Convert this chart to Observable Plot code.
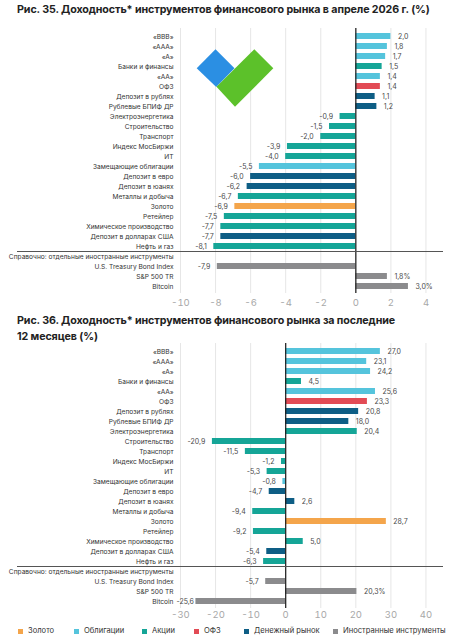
<!DOCTYPE html>
<html>
<head>
<meta charset="utf-8">
<script src="https://cdn.jsdelivr.net/npm/d3@7"></script>
<script src="https://cdn.jsdelivr.net/npm/@observablehq/plot@0.6"></script>
<style>
  html, body { margin: 0; padding: 0; background: #fff; }
  body { width: 466px; height: 641px; position: relative; overflow: hidden; font-family: Inter, "Noto Sans", sans-serif; }
  .title { position: absolute; left: 17px; font-weight: 700; font-size: 10.7px; color: #222; line-height: 16px; letter-spacing: -0.1px; white-space: nowrap; }
  .chart { position: absolute; left: 0; }
  .legend { position: absolute; left: 0; top: 625px; width: 466px; height: 14px; font-size: 7.6px; color: #333; }
  .legend span.item { position: absolute; top: 0; display: inline-flex; align-items: center; white-space: nowrap; line-height: 12px; }
  .legend i { display: inline-block; width: 5px; height: 5px; margin-right: 5px; }
  .logo { position: absolute; left: 190px; top: 44px; }
</style>
</head>
<body>
<div class="title" style="top:2px">Рис. 35. Доходность* инструментов финансового рынка в апреле 2026 г. (%)</div>
<div class="chart" id="c1" style="top:22px"></div>
<div class="title" style="top:313px">Рис. 36. Доходность* инструментов финансового рынка за последние<br>12 месяцев (%)</div>
<div class="chart" id="c2" style="top:343px"></div>
<div class="legend" id="legend"></div>
<script>
// ---- data ----
const categories = [
  "«BBB»", "«AAA»", "«A»", "Банки и финансы", "«AA»", "ОФЗ",
  "Депозит в рублях", "Рублевые БПИФ ДР", "Электроэнергетика", "Строительство",
  "Транспорт", "Индекс МосБиржи", "ИТ", "Замещающие облигации", "Депозит в евро",
  "Депозит в юанях", "Металлы и добыча", "Золото", "Ретейлер",
  "Химическое производство", "Депозит в долларах США", "Нефть и газ",
  "Справочно: отдельные иностранные инструменты",
  "U.S. Treasury Bond Index", "S&P 500 TR", "Bitcoin"
];
const groups = [
  "Облигации", "Облигации", "Облигации", "Акции", "Облигации", "ОФЗ",
  "Денежный рынок", "Денежный рынок", "Акции", "Акции",
  "Акции", "Акции", "Акции", "Облигации", "Денежный рынок",
  "Денежный рынок", "Акции", "Золото", "Акции",
  "Акции", "Денежный рынок", "Акции",
  null,
  "Иностранные инструменты", "Иностранные инструменты", "Иностранные инструменты"
];
const valuesApril = [
  2.0, 1.8, 1.7, 1.5, 1.4, 1.4,
  1.1, 1.2, -0.9, -1.5,
  -2.0, -3.9, -4.0, -5.5, -6.0,
  -6.2, -6.7, -6.9, -7.5,
  -7.7, -7.7, -8.1,
  null,
  -7.9, 1.8, 3.0
];
const values12m = [
  27.0, 23.1, 24.2, 4.5, 25.6, 23.3,
  20.8, 18.0, 20.4, -20.9,
  -11.5, -1.2, -5.3, -0.8, -4.7,
  2.6, -9.4, 28.7, -9.2,
  5.0, -5.4, -6.3,
  null,
  -5.7, 20.3, -25.6
];
const legendGroups = ["Золото", "Облигации", "Акции", "ОФЗ", "Денежный рынок", "Иностранные инструменты"];
const legendColors = ["#f4a54b", "#55c4dc", "#15a597", "#e24b55", "#0e5e85", "#8b8b8d"];
const ticksApril = [-10, -8, -6, -4, -2, 0, 2, 4];
const ticks12m = [-30, -20, -10, 0, 10, 20, 30, 40];
const separatorRow = "Справочно: отдельные иностранные инструменты";

// ---- build ----
function rows(values) {
  return categories.map((c, i) => ({cat: c, group: groups[i], value: values[i]}))
    .filter(d => d.value != null);
}
function fmt(d) {
  const s = d.value.toFixed(1).replace(".", ",");
  return (d.group === "Иностранные инструменты" && d.value > 0) ? s + "%" : s;
}

function chart(values, domain, ticks, opts) {
  const data = rows(values);
  const font = {fontSize: 7, fill: "#4a4a4a"};
  const nearEdge = d => d.value < domain[0] * 0.85;
  return Plot.plot({
    width: 466,
    height: opts.height,
    marginLeft: 180,
    marginRight: 23,
    marginTop: opts.marginTop,
    marginBottom: opts.marginBottom,
    style: {fontFamily: "Inter, 'Noto Sans', sans-serif", background: "#fff", overflow: "visible"},
    x: {domain: domain},
    y: {domain: categories, padding: 0.4},
    color: {domain: legendGroups, range: legendColors},
    marks: [
      Plot.gridX(ticks, {stroke: "#e6e6e6", strokeOpacity: 1, strokeWidth: 1}),
      Plot.barX(data, {x: "value", y: "cat", fill: "group"}),
      Plot.ruleX([0], {stroke: "#1a1a1a", strokeWidth: 1.2}),
      Plot.ruleY([separatorRow], {y: d => d, dy: -5, insetLeft: -163, stroke: "#555", strokeWidth: 1.2}),
      Plot.text(data.filter(d => d.value >= 0), {x: "value", y: "cat", text: fmt, dx: 7, textAnchor: "start", ...font}),
      Plot.text(data.filter(d => d.value < 0 && !nearEdge(d)), {x: "value", y: "cat", text: fmt, dx: -7, textAnchor: "end", ...font}),
      Plot.text(data.filter(d => d.value < 0 && nearEdge(d)), {x: "value", y: "cat", text: fmt, dx: -2, textAnchor: "end", ...font}),
      Plot.axisY({tickSize: 0, tickPadding: 7, fontSize: 6.6, color: "#333", label: null}),
      Plot.axisX({ticks: ticks, tickSize: 0, tickPadding: opts.tickPadding, fontSize: 9.5, color: "#a8a8a8", tickFormat: d => String(d), label: null})
    ]
  });
}

document.getElementById("c1").append(chart(valuesApril, [-10, 5], ticksApril, {height: 291, marginTop: 6, marginBottom: 20, tickPadding: 6}));
document.getElementById("c2").append(chart(values12m, [-30, 45], ticks12m, {height: 279, marginTop: 0, marginBottom: 14, tickPadding: 3}));

// legend
const lg = document.getElementById("legend");
const legendLeft = [18, 74, 142, 194, 244, 333];
legendGroups.forEach((g, i) => {
  const s = document.createElement("span");
  s.className = "item";
  s.style.left = legendLeft[i] + "px";
  s.innerHTML = `<i style="background:${legendColors[i]}"></i>${g}`;
  lg.append(s);
});
</script>
<svg class="logo" width="90" height="70" viewBox="190 44 90 70" aria-hidden="true">
  <polygon points="196.7,68.3 215.5,49.3 234.5,68.3 216.2,87" fill="#2b8fe3"/>
  <polygon points="216.5,86.8 254.3,49.3 273.3,68.3 235,106.7" fill="#5cc12a"/>
</svg>
</body>
</html>
